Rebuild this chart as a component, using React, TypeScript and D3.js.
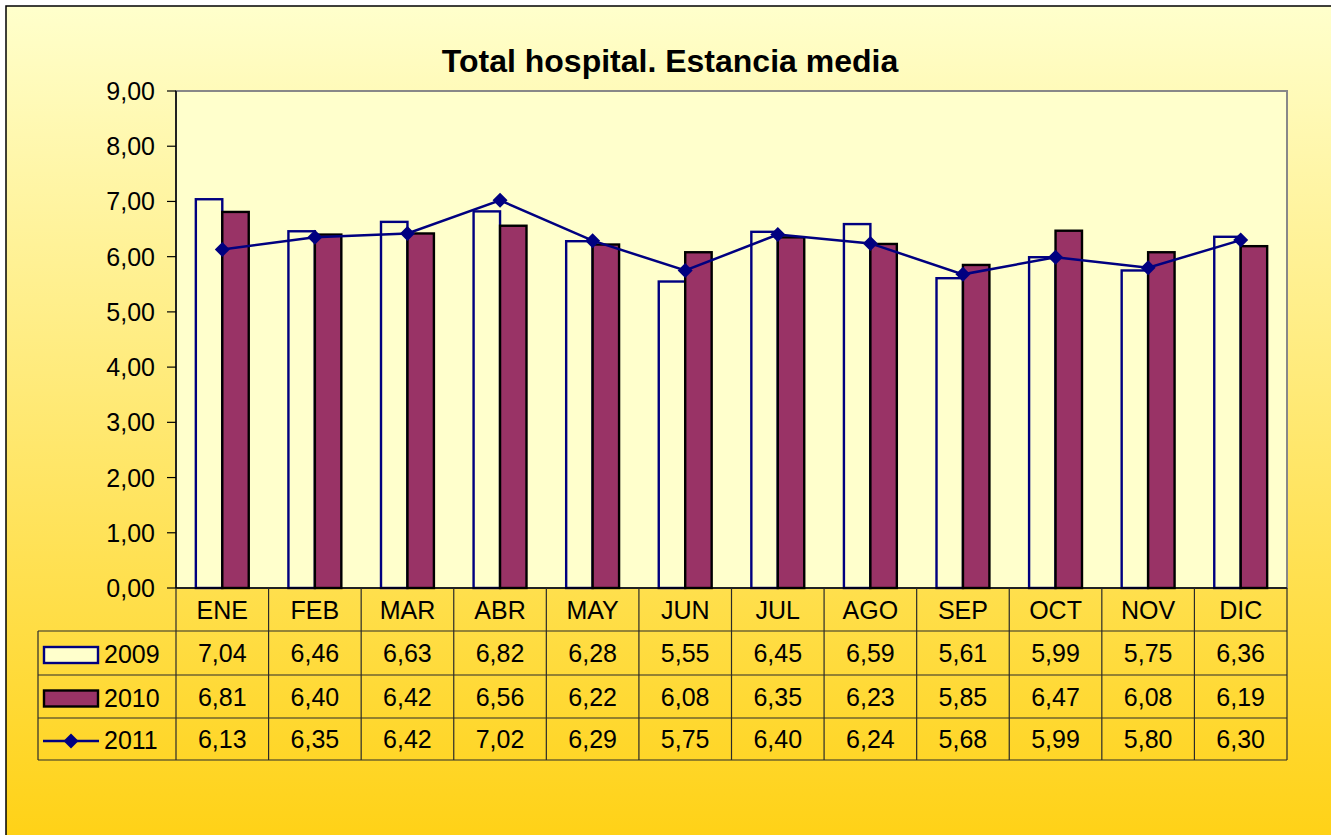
import React, { useEffect, useRef } from 'react';
import * as d3 from 'd3';

const months = ['ENE', 'FEB', 'MAR', 'ABR', 'MAY', 'JUN', 'JUL', 'AGO', 'SEP', 'OCT', 'NOV', 'DIC'];
const seriesNames = ['2009', '2010', '2011'];
const values2009 = [7.04, 6.46, 6.63, 6.82, 6.28, 5.55, 6.45, 6.59, 5.61, 5.99, 5.75, 6.36];
const values2010 = [6.81, 6.40, 6.42, 6.56, 6.22, 6.08, 6.35, 6.23, 5.85, 6.47, 6.08, 6.19];
const values2011 = [6.13, 6.35, 6.42, 7.02, 6.29, 5.75, 6.40, 6.24, 5.68, 5.99, 5.80, 6.30];
const yTicks = [0, 1, 2, 3, 4, 5, 6, 7, 8, 9];

const W = 1331;
const H = 835;

export default function App() {
  const svgRef = useRef<SVGSVGElement>(null);

  useEffect(() => {
    if (!svgRef.current) return;
    const svg = d3.select(svgRef.current);
    svg.selectAll('*').remove();

    const font = 'Arial, "Liberation Sans", sans-serif';
    const left = 176, right = 1287, top = 91, bottom = 588;
    const tableLeft = 38;
    const rowEdges = [588, 631, 675, 718, 760];

    // background gradient
    const defs = svg.append('defs');
    const grad = defs.append('linearGradient')
      .attr('id', 'bg').attr('x1', 0).attr('y1', 0).attr('x2', 0).attr('y2', 1);
    grad.append('stop').attr('offset', '0%').attr('stop-color', '#FFFFCC');
    grad.append('stop').attr('offset', '100%').attr('stop-color', '#FFCC00');

    // chart area runs past the window on the right and bottom
    svg.append('rect')
      .attr('x', 6).attr('y', 6).attr('width', W + 100).attr('height', H + 100)
      .attr('fill', 'url(#bg)').attr('stroke', '#000').attr('stroke-width', 1.5);

    // title
    svg.append('text')
      .attr('x', 670).attr('y', 72)
      .attr('text-anchor', 'middle')
      .style('font-family', font).style('font-weight', 'bold').style('font-size', '32px')
      .text('Total hospital. Estancia media');

    const x0 = d3.scaleBand<string>().domain(months).range([left, right]).padding(0);
    const x1 = d3.scaleBand<string>().domain(['2009', '2010'])
      .range([0, x0.bandwidth()]).paddingInner(0).paddingOuter(0.75);
    const y = d3.scaleLinear().domain([0, 9]).range([bottom, top]);
    const fmt = (v: number) => d3.format('.2f')(v).replace('.', ',');

    // plot area
    svg.append('rect')
      .attr('x', left).attr('y', top).attr('width', right - left).attr('height', bottom - top)
      .attr('fill', '#FFFFCC').attr('stroke', '#888').attr('stroke-width', 2);

    // y axis
    const axis = svg.append('g');
    axis.append('line')
      .attr('x1', left).attr('x2', left).attr('y1', top).attr('y2', bottom)
      .attr('stroke', '#000').attr('stroke-width', 1.5);
    axis.selectAll('line.tick').data(yTicks).join('line')
      .attr('class', 'tick')
      .attr('x1', left - 9).attr('x2', left)
      .attr('y1', d => y(d)).attr('y2', d => y(d))
      .attr('stroke', '#000').attr('stroke-width', 1.2);
    axis.selectAll('text').data(yTicks).join('text')
      .attr('x', 155).attr('y', d => y(d) + 9)
      .attr('text-anchor', 'end')
      .style('font-family', font).style('font-size', '25px')
      .text(d => fmt(d));

    // bars
    const barData = [
      { name: '2009', values: values2009, fill: '#FFFFCC', stroke: '#000080' },
      { name: '2010', values: values2010, fill: '#993366', stroke: '#000' },
    ];
    barData.forEach(s => {
      svg.append('g').selectAll('rect').data(s.values).join('rect')
        .attr('x', (d, i) => (x0(months[i]) as number) + (x1(s.name) as number))
        .attr('y', d => y(d))
        .attr('width', x1.bandwidth())
        .attr('height', d => y(0) - y(d))
        .attr('fill', s.fill).attr('stroke', s.stroke).attr('stroke-width', 2.4);
    });

    // line 2011
    const cx = (i: number) => (x0(months[i]) as number) + x0.bandwidth() / 2;
    const line = d3.line<number>().x((d, i) => cx(i)).y(d => y(d));
    svg.append('path')
      .attr('d', line(values2011) as string)
      .attr('fill', 'none').attr('stroke', '#000080').attr('stroke-width', 2.5);
    const diamond = (px: number, py: number, r = 7.5) =>
      `M${px},${py - r}L${px + r},${py}L${px},${py + r}L${px - r},${py}Z`;
    svg.append('g').selectAll('path').data(values2011).join('path')
      .attr('d', (d, i) => diamond(cx(i), y(d)))
      .attr('fill', '#000080');

    // data table
    const table = svg.append('g');
    const gridColor = '#2a2a2a';
    table.append('line')
      .attr('x1', left).attr('x2', right).attr('y1', bottom).attr('y2', bottom)
      .attr('stroke', '#000').attr('stroke-width', 1.5);
    rowEdges.slice(1).forEach(ry => {
      table.append('line')
        .attr('x1', tableLeft).attr('x2', right).attr('y1', ry).attr('y2', ry)
        .attr('stroke', gridColor).attr('stroke-width', 1.2);
    });
    const colEdges = months.map(m => x0(m) as number).concat([right]);
    colEdges.forEach(cxv => {
      table.append('line')
        .attr('x1', cxv).attr('x2', cxv).attr('y1', bottom).attr('y2', rowEdges[4])
        .attr('stroke', gridColor).attr('stroke-width', 1.2);
    });
    table.append('line')
      .attr('x1', tableLeft).attr('x2', tableLeft).attr('y1', rowEdges[1]).attr('y2', rowEdges[4])
      .attr('stroke', gridColor).attr('stroke-width', 1.2);

    // header labels
    table.selectAll('text.month').data(months).join('text')
      .attr('class', 'month')
      .attr('x', d => (x0(d) as number) + x0.bandwidth() / 2)
      .attr('y', (rowEdges[0] + rowEdges[1]) / 2 + 9)
      .attr('text-anchor', 'middle')
      .style('font-family', font).style('font-size', '25px')
      .text(d => d);

    const rows = [values2009, values2010, values2011];
    rows.forEach((vals, r) => {
      const cy = (rowEdges[r + 1] + rowEdges[r + 2]) / 2;
      table.append('g').selectAll('text').data(vals).join('text')
        .attr('x', (d, i) => cx(i))
        .attr('y', cy + 9)
        .attr('text-anchor', 'middle')
        .style('font-family', font).style('font-size', '25px')
        .text(d => fmt(d));
      // legend key
      const ky = cy + 2;
      if (r === 0) {
        table.append('rect').attr('x', 44).attr('y', ky - 8).attr('width', 54).attr('height', 16)
          .attr('fill', '#FFFFCC').attr('stroke', '#000080').attr('stroke-width', 2.4);
      } else if (r === 1) {
        table.append('rect').attr('x', 44).attr('y', ky - 8).attr('width', 54).attr('height', 16)
          .attr('fill', '#993366').attr('stroke', '#000').attr('stroke-width', 2.4);
      } else {
        table.append('line').attr('x1', 43).attr('x2', 99).attr('y1', ky).attr('y2', ky)
          .attr('stroke', '#000080').attr('stroke-width', 2.5);
        table.append('path').attr('d', diamond(71, ky)).attr('fill', '#000080');
      }
      table.append('text')
        .attr('x', 104).attr('y', cy + 10)
        .style('font-family', font).style('font-size', '25px')
        .text(seriesNames[r]);
    });
  }, []);

  return (
    <svg
      ref={svgRef}
      width={W}
      height={H}
      style={{ position: 'absolute', left: 0, top: 0, display: 'block', overflow: 'hidden' }}
    />
  );
}
